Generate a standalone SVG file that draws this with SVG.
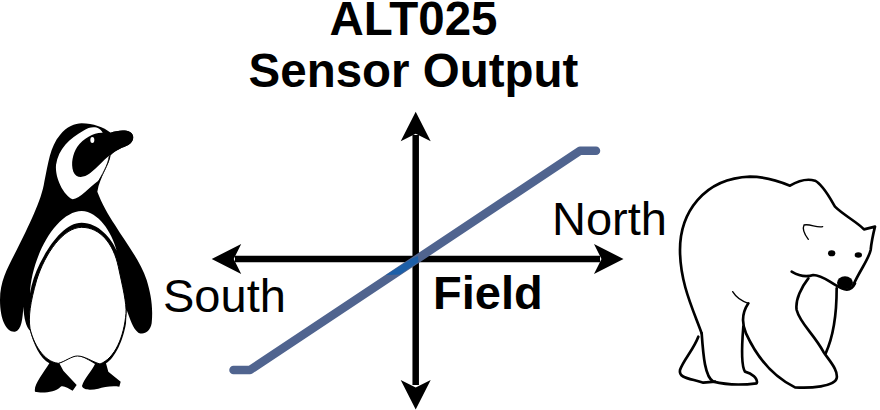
<svg xmlns="http://www.w3.org/2000/svg" width="880" height="410" viewBox="0 0 880 410">
<style>
text{font-family:"Liberation Sans",Arial,sans-serif;fill:#000}
.b{font-weight:700}
.t{font-size:47.500px}
.l{font-size:47px}
.ax{stroke:#000;stroke-width:6.500;fill:none}
.br{fill:none;stroke:#000;stroke-width:8;stroke-linecap:round;stroke-linejoin:round}
.brt{fill:none;stroke:#000;stroke-width:4;stroke-linecap:round}
</style>
<defs>
<path id="head" d="M0,0L-15,29.500L0,22L15,29.500Z" fill="#000"/>
</defs>
<rect width="880" height="410" fill="#fff"/>
<g id="penguin" transform="translate(0 110) scale(.33333)">
<path fill="#000" d="M245,40C280,40 310,52 332,68C350,62 375,58 390,66C405,75 402,95 385,105C368,113 350,118 332,136C328,165 300,200 292,245C305,280 325,315 345,345C375,395 420,450 440,510C452,550 460,590 455,640C450,668 430,675 415,668C398,655 392,630 380,600L378,640C370,690 345,745 318,760L325,785L362,815L358,830C335,826 310,832 295,836C275,840 250,842 246,828C252,805 275,785 285,762C265,750 245,738 232,738C215,738 195,755 178,760L190,782L230,825L218,842C205,835 190,825 182,830C165,848 125,850 105,845C100,825 130,790 148,760C120,745 100,700 90,662C78,650 72,625 70,590C68,625 65,660 45,665C20,668 0,630 0,570C0,510 25,470 50,420C85,350 125,270 133,215C145,160 150,110 180,75C200,50 225,40 245,40Z"/>
<path fill="#fff" stroke="#000" stroke-width="3" d="M90,655C85,620 90,580 110,510C135,430 190,352 245,352C300,352 340,400 355,470C368,530 380,580 378,610C372,680 345,745 300,762C275,755 255,738 232,738C215,738 195,755 175,760C130,755 100,700 90,655Z"/>
<path fill="#fff" d="M90,550C92,490 120,400 170,345C195,318 220,303 245,303C295,305 335,365 350,422C335,385 295,338 245,338C195,338 150,400 120,460C105,490 95,520 90,550Z"/>
<path fill="#fff" d="M308,68C300,50 275,45 250,62C210,85 175,115 168,165C165,205 190,255 218,268C240,265 270,230 295,212C312,190 325,165 328,136L300,110Z"/>
<path fill="none" stroke="#000" stroke-width="3" d="M328,138C325,165 305,195 292,222"/>
<path fill="#000" d="M305,68C280,68 250,85 232,110C218,132 212,160 220,185C228,205 250,205 270,190C290,175 310,150 330,135C350,118 368,113 385,105C402,95 405,75 390,66C375,58 350,62 332,68Z"/>
<ellipse cx="277" cy="90" rx="6" ry="9" fill="#fff"/>
</g>
<g id="bear" transform="translate(660 170) scale(.33333)">
<path class="br" d="M125,490C100,420 60,340 60,240C60,130 130,25 270,20C320,20 360,35 390,47C410,35 440,25 465,32C490,45 510,85 525,110C550,135 590,155 612,178L645,170C640,190 635,210 632,240C625,270 600,300 580,345"/>
<path class="br" d="M395,305C420,320 440,322 460,315C490,315 510,340 545,355C560,362 575,360 585,340"/>
<path class="brt" d="M488,170C470,175 450,160 432,165C425,180 435,195 445,208"/>
<ellipse cx="555" cy="338" rx="24" ry="19" fill="#000"/>
<ellipse cx="515" cy="250" rx="11" ry="9" fill="#000"/>
<ellipse cx="595" cy="255" rx="11" ry="8" fill="#000"/>
<path class="br" d="M445,325C425,350 405,390 410,420C420,460 460,490 490,545C510,575 535,600 530,625C525,650 450,655 405,652C340,620 290,560 258,490C245,460 245,430 265,400"/>
<path class="brt" d="M218,365C230,385 250,395 265,400"/>
<path class="br" d="M250,470C245,530 245,590 255,605C275,610 295,625 290,640C250,645 200,645 160,635C135,620 130,560 125,490"/>
<path class="br" d="M115,500C100,540 70,570 60,600C55,625 90,625 130,638L165,635"/>
<path class="br" d="M530,355C530,430 520,500 497,550"/>
</g>
<g id="connectors">
<path class="ax" d="M415.7,135V385"/>
<path class="ax" d="M235,259H600"/>
<use href="#head" transform="translate(415.7 111.7)"/>
<use href="#head" transform="translate(415.7 409.5) rotate(180)"/>
<use href="#head" transform="translate(211.7 259) rotate(-90)"/>
<use href="#head" transform="translate(623.5 259) rotate(90)"/>
<path d="M233.500,370H250L580,150.7H596" fill="none" stroke="#50648f" stroke-width="8.500" stroke-linecap="round" stroke-linejoin="round"/>
<path d="M386,275L411,259L418,256L418.500,262L400,274.500Z" fill="#1c5fa8"/>
</g>
<g id="labels">
<text class="b t" x="413.500" y="34.500" text-anchor="middle">ALT025</text>
<text class="b t" x="413.500" y="86.500" text-anchor="middle">Sensor Output</text>
<text class="l" x="163" y="312">South</text>
<text class="l" x="552" y="235">North</text>
<text class="b l" x="433" y="309">Field</text>
</g>
</svg>
